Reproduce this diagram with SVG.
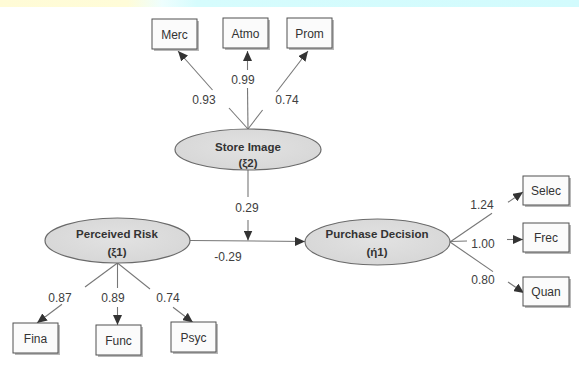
<svg xmlns="http://www.w3.org/2000/svg" width="579" height="366" viewBox="0 0 579 366">
<defs>
<linearGradient id="band" x1="0" y1="0" x2="1" y2="0">
<stop offset="0" stop-color="#fffbd6"/>
<stop offset="0.22" stop-color="#fffcd8"/>
<stop offset="0.28" stop-color="#eefefe"/>
<stop offset="0.34" stop-color="#d6fcfd"/>
<stop offset="1" stop-color="#d2fbfd"/>
</linearGradient>
<radialGradient id="ell" cx="0.5" cy="0.45" r="0.6">
<stop offset="0" stop-color="#e2e2e2"/>
<stop offset="1" stop-color="#d6d6d6"/>
</radialGradient>
<marker id="arr" markerUnits="userSpaceOnUse" markerWidth="11" markerHeight="9" refX="10" refY="4.5" orient="auto">
<path d="M0,0 L10,4.5 L0,9 z" fill="#333"/>
</marker>
</defs>
<style>
.box{fill:#fbfbfb;stroke:#505050;stroke-width:1}
.sh{fill:#b8b8b8}
.ell{fill:url(#ell);stroke:#6a6a6a;stroke-width:1.2}
.btxt{font-family:"Liberation Sans",Arial,sans-serif;font-size:12px;fill:#333;text-anchor:middle}
.etxt{font-family:"Liberation Sans",Arial,sans-serif;font-size:11.5px;font-weight:bold;fill:#333;text-anchor:middle}
.lbl{font-family:"Liberation Sans",Arial,sans-serif;font-size:12px;fill:#404040;text-anchor:middle}
.ln{stroke:#777;stroke-width:1.1;fill:none}
.ar{stroke:#777;stroke-width:1.1;fill:none;marker-end:url(#arr)}
</style>
<rect x="0" y="0" width="579" height="7" fill="url(#band)"/>
<rect width="579" height="359" y="7" fill="#fff"/>

<g id="connectors">
<!-- Store Image to indicators -->
<line class="ln" x1="248" y1="129" x2="229" y2="108"/>
<line class="ar" x1="212.5" y1="90" x2="178" y2="51"/>
<line class="ln" x1="248" y1="129" x2="247.5" y2="88"/>
<line class="ar" x1="247.5" y1="70" x2="247.5" y2="51"/>
<line class="ln" x1="248" y1="129" x2="262.6" y2="110"/>
<line class="ar" x1="276.5" y1="92" x2="308" y2="51"/>
<!-- Store Image to path -->
<line class="ln" x1="248" y1="169" x2="248" y2="197"/>
<line class="ar" x1="248" y1="220" x2="248" y2="240.5"/>
<!-- Perceived Risk to Purchase Decision -->
<path class="ar" d="M190,240.5 Q250,241 305,241.5"/>
<!-- Purchase Decision to indicators -->
<line class="ln" x1="450" y1="242" x2="492" y2="213.2"/>
<line class="ar" x1="508" y1="202.3" x2="523" y2="192"/>
<line class="ln" x1="450" y1="241.5" x2="467" y2="241"/>
<line class="ar" x1="507" y1="239.5" x2="523" y2="239.5"/>
<line class="ln" x1="450" y1="242" x2="493" y2="271.6"/>
<line class="ar" x1="508" y1="282" x2="524" y2="293"/>
<!-- Perceived Risk to indicators -->
<line class="ln" x1="117.5" y1="263" x2="85" y2="287"/>
<line class="ar" x1="62" y1="304.3" x2="37" y2="323"/>
<line class="ln" x1="117.5" y1="263" x2="117.5" y2="288"/>
<line class="ar" x1="117.5" y1="307" x2="117.5" y2="325"/>
<line class="ln" x1="117.5" y1="263" x2="150" y2="289"/>
<line class="ar" x1="173" y1="307.2" x2="193" y2="322.5"/>
</g>

<g id="labels">
<text class="lbl" x="204" y="104">0.93</text>
<text class="lbl" x="243" y="84">0.99</text>
<text class="lbl" x="287" y="104">0.74</text>
<text class="lbl" x="247" y="212">0.29</text>
<text class="lbl" x="228" y="261">-0.29</text>
<text class="lbl" x="482" y="209">1.24</text>
<text class="lbl" x="483" y="248">1.00</text>
<text class="lbl" x="483" y="284">0.80</text>
<text class="lbl" x="60" y="302">0.87</text>
<text class="lbl" x="113" y="302">0.89</text>
<text class="lbl" x="168" y="302">0.74</text>
</g>

<g id="merc"><rect class="sh" x="154" y="21" width="45" height="30"/><rect class="box" x="152" y="19" width="45" height="30"/><text class="btxt" x="174.5" y="38.5">Merc</text></g>
<g id="atmo"><rect class="sh" x="225" y="20" width="45" height="30"/><rect class="box" x="223" y="18" width="45" height="30"/><text class="btxt" x="245.5" y="37.5">Atmo</text></g>
<g id="prom"><rect class="sh" x="289" y="20" width="45" height="30"/><rect class="box" x="287" y="18" width="45" height="30"/><text class="btxt" x="309.5" y="37.5">Prom</text></g>

<g id="store-image"><ellipse class="ell" cx="248" cy="149.5" rx="73" ry="20.5"/><text class="etxt" x="248" y="151">Store Image</text><text class="etxt" x="248" y="167">(ξ2)</text></g>
<g id="perceived-risk"><ellipse class="ell" cx="117.5" cy="240.5" rx="72.5" ry="22.5"/><text class="etxt" x="117" y="237.5">Perceived Risk</text><text class="etxt" x="117" y="256">(ξ1)</text></g>
<g id="purchase-decision"><ellipse class="ell" cx="377.5" cy="242" rx="72.5" ry="23"/><text class="etxt" x="377" y="237.5">Purchase Decision</text><text class="etxt" x="377" y="256">(ή1)</text></g>

<g id="selec"><rect class="sh" x="525" y="178" width="46" height="29"/><rect class="box" x="523" y="176" width="46" height="29"/><text class="btxt" x="546" y="195">Selec</text></g>
<g id="frec"><rect class="sh" x="525" y="225" width="46" height="29"/><rect class="box" x="523" y="223" width="46" height="29"/><text class="btxt" x="546" y="242">Frec</text></g>
<g id="quan"><rect class="sh" x="525" y="279" width="46" height="29"/><rect class="box" x="523" y="277" width="46" height="29"/><text class="btxt" x="546" y="296">Quan</text></g>

<g id="fina"><rect class="sh" x="15" y="325" width="45" height="30"/><rect class="box" x="13" y="323" width="45" height="30"/><text class="btxt" x="35.5" y="342.5">Fina</text></g>
<g id="func"><rect class="sh" x="98" y="327" width="45" height="30"/><rect class="box" x="96" y="325" width="45" height="30"/><text class="btxt" x="118.5" y="344.5">Func</text></g>
<g id="psyc"><rect class="sh" x="173" y="324" width="45" height="30"/><rect class="box" x="171" y="322" width="45" height="30"/><text class="btxt" x="193.5" y="341.5">Psyc</text></g>
</svg>
